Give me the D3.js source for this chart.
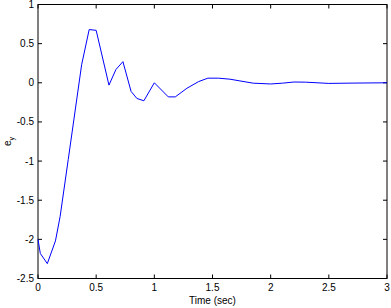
<!DOCTYPE html>
<html>
<head>
<meta charset="utf-8">
<script src="https://cdn.jsdelivr.net/npm/d3@7"></script>
<style>
  body { margin: 0; background: #fff; }
  text { font-family: Arial, "Liberation Sans", sans-serif; font-size: 10px; fill: #000; }
</style>
</head>
<body>
<svg id="chart" width="391" height="308"></svg>
<script>
// time samples (sec) and error e_y
var times = [0, 0.02, 0.08, 0.15, 0.19, 0.26, 0.375, 0.44, 0.5, 0.61, 0.67, 0.73,
             0.80, 0.85, 0.91, 1.0, 1.12, 1.18, 1.28, 1.38, 1.46, 1.55, 1.65, 1.72,
             1.85, 2.0, 2.1, 2.2, 2.3, 2.5, 2.7, 3.0];
var ey = [-2.0, -2.18, -2.31, -2.02, -1.71, -0.98, 0.23, 0.68, 0.67, -0.03, 0.17, 0.27,
          -0.11, -0.2, -0.23, 0.0, -0.18, -0.18, -0.07, 0.015, 0.059, 0.059, 0.046, 0.028,
          -0.005, -0.015, -0.005, 0.01, 0.008, -0.008, -0.004, 0];
var xTicks = [0, 0.5, 1, 1.5, 2, 2.5, 3];
var yTicks = [1, 0.5, 0, -0.5, -1, -1.5, -2, -2.5];

var pL = 38, pR = 387, pT = 4.5, pB = 278.5;
var svg = d3.select("#chart");

var x = d3.scaleLinear().domain([0, 3]).range([pL, pR]);
var y = d3.scaleLinear().domain([-2.5, 1]).range([pB, pT]);

// box
svg.append("rect").attr("x", pL).attr("y", pT)
  .attr("width", pR - pL).attr("height", pB - pT)
  .attr("fill", "none").attr("stroke", "#000").attr("stroke-width", 1);

// inward ticks on all four sides
var tl = 4;
xTicks.forEach(function(t) {
  svg.append("line").attr("x1", x(t)).attr("x2", x(t)).attr("y1", pB).attr("y2", pB - tl).attr("stroke", "#000");
  svg.append("line").attr("x1", x(t)).attr("x2", x(t)).attr("y1", pT).attr("y2", pT + tl).attr("stroke", "#000");
  svg.append("text").attr("x", x(t)).attr("y", pB + 12).attr("text-anchor", "middle").text(t);
});
yTicks.forEach(function(v) {
  svg.append("line").attr("x1", pL).attr("x2", pL + tl).attr("y1", y(v)).attr("y2", y(v)).attr("stroke", "#000");
  svg.append("line").attr("x1", pR).attr("x2", pR - tl).attr("y1", y(v)).attr("y2", y(v)).attr("stroke", "#000");
  svg.append("text").attr("x", pL - 4).attr("y", y(v) + 3.5).attr("text-anchor", "end").text(v);
});

// curve
var pts = times.map(function(t, i) { return [t, ey[i]]; });
svg.append("path").datum(pts)
  .attr("fill", "none").attr("stroke", "#0000ff").attr("stroke-width", 1)
  .attr("d", d3.line().x(function(d) { return x(d[0]); }).y(function(d) { return y(d[1]); }));

// labels
svg.append("text").attr("x", (pL + pR) / 2).attr("y", 304).attr("text-anchor", "middle").text("Time (sec)");
var yl = svg.append("text").attr("transform", "translate(11," + ((pT + pB) / 2) + ") rotate(-90)")
  .attr("text-anchor", "middle");
yl.append("tspan").text("e");
yl.append("tspan").attr("dy", 3).attr("font-size", "7px").text("y");
</script>
</body>
</html>
